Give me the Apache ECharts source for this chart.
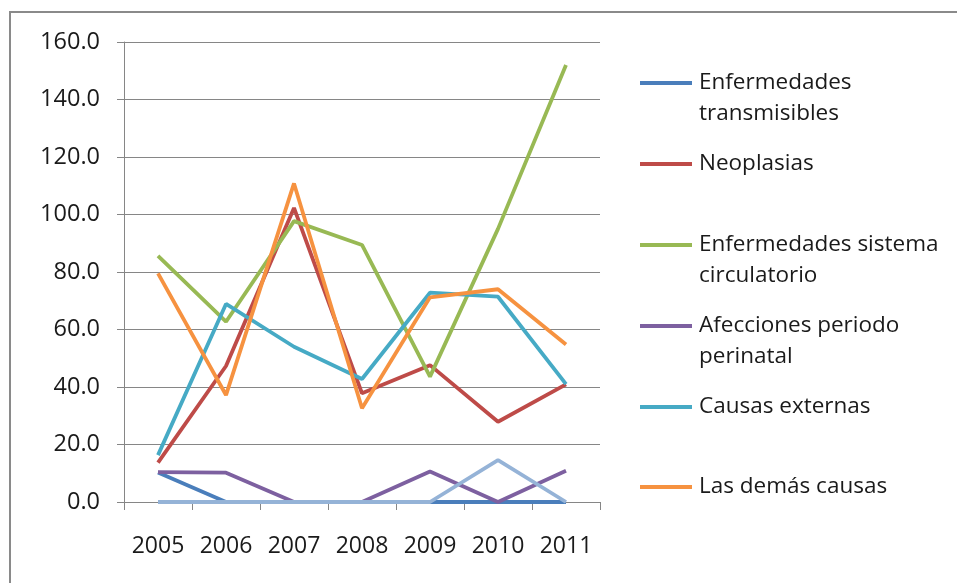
<!DOCTYPE html>
<html><head><meta charset="utf-8">
<script src="https://cdn.jsdelivr.net/npm/echarts@6/dist/echarts.min.js"></script>
<style>html,body{margin:0;padding:0;background:#fff}#c{width:957px;height:583px}</style>
</head><body><div id="c"></div>
<script>
const years = ['2005','2006','2007','2008','2009','2010','2011'];
const transmisibles = [10.3, 0, 0, 0, 0, 0, 0];
const neoplasias = [13.7, 47.3, 102.3, 37.8, 47.6, 27.9, 40.9];
const circulatorio = [85.6, 62.7, 97.7, 89.4, 43.6, 95.0, 152.0];
const perinatal = [10.4, 10.2, 0, 0, 10.6, 0, 10.9];
const externas = [16.3, 68.9, 54.0, 42.8, 72.8, 71.4, 41.0];
const demas = [79.5, 37.2, 110.8, 32.6, 71.2, 74.0, 54.8];
const otros = [0, 0, 0, 0, 0, 14.6, 0];
const names = ['Enfermedades transmisibles','Neoplasias','Enfermedades sistema circulatorio','Afecciones periodo perinatal','Causas externas','Las demás causas','Síntomas y signos mal definidos'];
const legendLabels = ['Enfermedades\ntransmisibles','Neoplasias','Enfermedades sistema\ncirculatorio','Afecciones periodo\nperinatal','Causas externas','Las demás causas'];
const values = [transmisibles, neoplasias, circulatorio, perinatal, externas, demas, otros];
const colors = ['#4A7EBB','#BE4B48','#98B954','#7D60A0','#46AAC5','#F69240','#95B3D7'];

const FONT = '"Open Sans", sans-serif';
const LH = 31;
const iconY = [83, 164, 245, 326, 407, 487];
const legends = legendLabels.map((lab, i) => {
  const two = lab.indexOf('\n') >= 0;
  return {
    data: [names[i]],
    orient: 'vertical',
    left: 640,
    top: two ? iconY[i] - 1.5 * LH : iconY[i] - LH / 2,
    padding: 0,
    icon: 'rect',
    itemWidth: 52,
    itemHeight: 4,
    itemGap: 0,
    selectedMode: false,
    formatter: () => (two ? '\n' + lab : lab),
    textStyle: {
      fontFamily: FONT, fontSize: 22.5, color: '#1a1a1a', lineHeight: LH,
      padding: [0, 0, 0, 2]
    }
  };
});

const chart = echarts.init(document.getElementById('c'));
chart.setOption({
  animation: false,
  backgroundColor: '#fff',
  color: colors,
  graphic: [
    { type: 'line', shape: { x1: 9, y1: 12, x2: 957, y2: 12 }, style: { stroke: '#8a8a8a', lineWidth: 2 } },
    { type: 'line', shape: { x1: 10, y1: 12, x2: 10, y2: 583 }, style: { stroke: '#8a8a8a', lineWidth: 2 } }
  ],
  legend: legends,
  grid: { left: 124, top: 42, width: 476, height: 460, containLabel: false },
  xAxis: {
    type: 'category', data: years, boundaryGap: true,
    axisLine: { lineStyle: { color: '#868686', width: 1 } },
    axisTick: { show: true, length: 8, interval: 0, lineStyle: { color: '#868686' } },
    axisLabel: { interval: 0, hideOverlap: false, fontFamily: FONT, fontSize: 23, color: '#1a1a1a', margin: 33 }
  },
  yAxis: {
    type: 'value', min: 0, max: 160, interval: 20,
    axisLine: { show: true, lineStyle: { color: '#868686', width: 1 } },
    axisTick: { show: true, length: 7, lineStyle: { color: '#868686' } },
    axisLabel: { fontFamily: FONT, fontSize: 23.5, color: '#1a1a1a', margin: 24, formatter: v => v.toFixed(1) },
    splitLine: { lineStyle: { color: '#868686', width: 1 } }
  },
  series: values.map((d, i) => ({
    name: names[i], type: 'line', data: d, showSymbol: false, symbol: 'none',
    lineStyle: { width: 3.8, color: colors[i] }, itemStyle: { color: colors[i] }
  }))
});
</script></body></html>
